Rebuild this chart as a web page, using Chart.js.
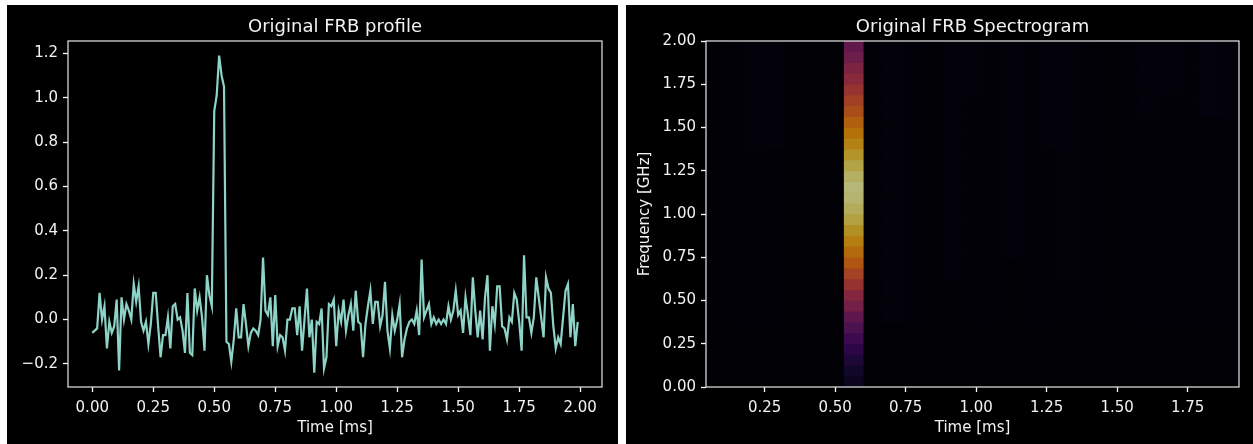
<!DOCTYPE html>
<html><head><meta charset="utf-8">
<script src="https://cdn.jsdelivr.net/npm/chart.js@4.4.1/dist/chart.umd.min.js"></script>
<style>
html,body{margin:0;padding:0;background:#fff;width:1253px;height:444px;overflow:hidden}
.panel{position:absolute;background:#000}
#p1{left:7px;top:5px;width:611px;height:439px}
#p2{left:626px;top:5px;width:627px;height:439px}
canvas{display:block}
</style></head><body>
<div class="panel" id="p1"><canvas id="c1" width="611" height="439"></canvas></div>
<div class="panel" id="p2"><canvas id="c2" width="627" height="439"></canvas></div>
<script>
// ---------- DATA ----------
const profileTitle = "Original FRB profile";
const spectroTitle = "Original FRB Spectrogram";
const timeLabel = "Time [ms]";
const freqLabel = "Frequency [GHz]";

// pulse profile, one sample every 0.01 ms starting at 0.00 ms
const profileStart = 0.0;
const profileStep = 0.01;
const profileValues = [
 -0.06,-0.05,-0.04,0.12,0.00,0.06,-0.13,-0.01,-0.06,-0.03,
 0.09,-0.23,0.10,0.00,0.07,0.04,0.00,0.16,0.08,0.15,
 -0.01,-0.05,-0.01,-0.11,-0.02,0.12,0.12,-0.03,-0.17,-0.07,
 -0.07,0.01,-0.13,0.06,0.07,0.00,0.01,-0.05,-0.15,0.12,
 -0.15,-0.16,0.14,0.04,0.10,0.01,-0.14,0.20,0.11,0.06,
 0.94,1.01,1.19,1.10,1.05,-0.10,-0.11,-0.19,-0.09,0.05,
 -0.08,-0.08,0.07,-0.02,-0.12,-0.06,-0.04,-0.05,-0.07,0.00,
 0.28,0.04,0.02,0.10,-0.12,0.11,-0.12,-0.07,-0.08,-0.14,
 0.00,0.00,0.05,0.05,-0.07,0.06,-0.14,0.00,0.14,-0.08,
 0.00,-0.24,-0.01,-0.02,0.05,-0.22,-0.17,0.07,0.06,0.09,
 -0.12,0.04,-0.01,0.09,-0.05,0.02,0.07,-0.05,0.13,-0.01,
 -0.02,-0.17,-0.02,0.06,0.13,-0.02,0.08,0.08,-0.03,0.02,
 0.17,-0.05,-0.13,0.02,-0.05,0.00,0.07,-0.17,-0.09,-0.04,
 -0.01,0.00,-0.02,0.04,-0.07,0.27,0.01,0.04,0.07,-0.02,
 0.01,-0.02,0.00,-0.02,0.00,-0.02,0.06,0.00,0.04,0.13,
 0.02,0.04,-0.06,0.10,0.02,-0.07,0.19,0.04,-0.08,0.04,
 -0.09,0.10,0.20,-0.14,0.06,-0.02,0.15,0.15,-0.03,-0.04,
 -0.09,0.01,-0.01,0.12,0.09,-0.01,-0.14,0.29,0.01,0.01,
 -0.06,0.01,0.19,0.10,0.01,-0.08,0.19,0.14,0.12,-0.03,
 -0.13,-0.08,-0.11,0.01,0.13,0.16,-0.08,0.07,-0.12,-0.01
];
const profileXRange = [-0.0995, 2.0895];
const profileYRange = [-0.304, 1.2555];
const profileXTicks = [0, 0.25, 0.5, 0.75, 1.0, 1.25, 1.5, 1.75, 2.0];
const profileYTicks = [-0.2, 0, 0.2, 0.4, 0.6, 0.8, 1.0, 1.2];

// spectrogram: time bins start at 0.042 ms, 0.07 ms wide; 32 frequency rows 0..2 GHz
const specTimeStart = 0.042;
const specTimeBin = 0.07;
const specFreqMax = 2.0;
// rows listed from the top (2 GHz) to the bottom (0 GHz); 27 time bins each; normalised intensity
const spectrogram = [
 [.005,.01,.02,.018,.005,.005,.005,.37,.01,.018,.015,.005,.02,.018,.01,.02,.012,.018,.018,.01,.005,.01,.018,.02,.012,.026,.018],
 [.005,.01,.02,.018,.005,.005,.005,.41,.01,.018,.015,.005,.02,.018,.01,.02,.012,.018,.018,.01,.005,.01,.018,.02,.012,.026,.018],
 [.005,.01,.02,.018,.005,.005,.005,.46,.01,.018,.015,.005,.02,.018,.01,.02,.012,.018,.018,.01,.005,.01,.018,.02,.012,.026,.018],
 [.005,.01,.02,.018,.005,.005,.005,.51,.01,.018,.015,.005,.02,.018,.01,.02,.012,.018,.018,.01,.005,.01,.018,.02,.012,.026,.018],
 [.005,.01,.02,.018,.005,.005,.005,.56,.01,.018,.015,.005,.02,.018,.01,.02,.012,.018,.018,.01,.005,.01,.018,.02,.012,.026,.018],
 [.005,.01,.02,.018,.005,.005,.005,.62,.01,.018,.015,.005,.02,.012,.01,.02,.012,.018,.018,.01,.005,.01,.018,.012,.012,.026,.018],
 [.005,.01,.02,.018,.005,.005,.005,.67,.01,.018,.015,.005,.02,.012,.01,.02,.012,.018,.018,.01,.005,.01,.018,.012,.012,.026,.018],
 [.005,.01,.02,.018,.005,.005,.005,.73,.01,.018,.015,.005,.02,.012,.01,.02,.012,.018,.018,.01,.005,.01,.01,.012,.012,.012,.01],
 [.005,.01,.02,.018,.005,.005,.005,.78,.01,.018,.015,.005,.02,.012,.01,.02,.012,.018,.018,.01,.005,.01,.01,.012,.012,.012,.01],
 [.005,.01,.02,.018,.005,.005,.005,.83,.01,.018,.015,.005,.02,.012,.01,.02,.012,.018,.018,.01,.005,.01,.01,.012,.012,.012,.01],
 [.005,.01,.01,.01,.005,.005,.005,.88,.01,.018,.015,.005,.02,.012,.01,.02,.012,.012,.018,.01,.005,.01,.01,.012,.012,.012,.01],
 [.005,.01,.01,.01,.005,.005,.005,.93,.01,.018,.015,.005,.02,.012,.01,.02,.012,.012,.018,.01,.005,.01,.01,.012,.012,.012,.01],
 [.005,.01,.01,.01,.005,.005,.005,.97,.01,.018,.015,.005,.02,.012,.01,.02,.012,.012,.018,.01,.005,.01,.01,.012,.012,.012,.01],
 [.005,.01,.01,.01,.005,.005,.005,1.0,.01,.018,.015,.005,.02,.012,.01,.02,.012,.012,.018,.01,.005,.01,.01,.012,.012,.012,.01],
 [.005,.01,.01,.01,.005,.005,.005,.99,.01,.018,.015,.005,.02,.012,.01,.02,.012,.012,.018,.01,.005,.01,.01,.012,.012,.012,.01],
 [.005,.01,.01,.01,.005,.005,.005,.96,.01,.018,.015,.005,.02,.012,.01,.02,.012,.012,.018,.01,.005,.01,.01,.012,.012,.012,.01],
 [.005,.01,.01,.01,.005,.005,.005,.92,.01,.018,.015,.005,.02,.012,.01,.02,.012,.012,.018,.01,.005,.01,.01,.012,.012,.012,.01],
 [.005,.01,.01,.01,.005,.005,.005,.87,.01,.018,.015,.005,.02,.012,.01,.02,.012,.012,.018,.01,.005,.01,.01,.012,.012,.012,.01],
 [.005,.01,.01,.01,.005,.005,.005,.82,.01,.018,.015,.005,.02,.012,.01,.02,.012,.012,.018,.01,.005,.01,.01,.012,.012,.012,.01],
 [.005,.01,.01,.01,.005,.005,.005,.76,.01,.018,.015,.005,.02,.012,.01,.02,.012,.012,.018,.01,.005,.01,.01,.012,.012,.012,.01],
 [.005,.01,.01,.01,.005,.005,.005,.70,.01,.018,.015,.005,.02,.012,.01,.005,.012,.012,.018,.01,.005,.01,.01,.012,.012,.012,.01],
 [.005,.01,.01,.01,.005,.005,.005,.63,.01,.018,.015,.005,.02,.012,.01,.005,.012,.012,.018,.01,.005,.01,.01,.012,.012,.012,.01],
 [.005,.01,.01,.01,.005,.005,.005,.56,.01,.018,.015,.005,.005,.012,.01,.005,.012,.012,.005,.01,.005,.01,.01,.012,.012,.012,.01],
 [.005,.01,.01,.01,.005,.005,.005,.49,.01,.018,.015,.005,.005,.012,.01,.005,.012,.012,.005,.01,.005,.01,.01,.012,.012,.012,.01],
 [.005,.01,.01,.01,.005,.005,.005,.43,.01,.018,.015,.005,.005,.012,.01,.005,.012,.012,.005,.01,.005,.01,.01,.012,.012,.012,.01],
 [.005,.01,.01,.01,.005,.005,.005,.36,.01,.018,.015,.005,.005,.012,.01,.005,.012,.012,.005,.01,.005,.01,.01,.012,.012,.012,.01],
 [.005,.005,.005,.005,.005,.005,.005,.30,.005,.005,.005,.005,.005,.005,.005,.005,.005,.005,.005,.005,.005,.005,.005,.005,.005,.005,.005],
 [.005,.005,.005,.005,.005,.005,.005,.24,.005,.005,.005,.005,.005,.005,.005,.005,.005,.005,.005,.005,.005,.005,.005,.005,.005,.005,.005],
 [.005,.005,.005,.005,.005,.005,.005,.19,.005,.005,.005,.005,.005,.005,.005,.005,.005,.005,.005,.005,.005,.005,.005,.005,.005,.005,.005],
 [.005,.005,.005,.005,.005,.005,.005,.14,.005,.005,.005,.005,.005,.005,.005,.005,.005,.005,.005,.005,.005,.005,.005,.005,.005,.005,.005],
 [.005,.005,.005,.005,.005,.005,.005,.10,.005,.005,.005,.005,.005,.005,.005,.005,.005,.005,.005,.005,.005,.005,.005,.005,.005,.005,.005],
 [.005,.005,.005,.005,.005,.005,.005,.07,.005,.005,.005,.005,.005,.005,.005,.005,.005,.005,.005,.005,.005,.005,.005,.005,.005,.005,.005]
];
const specXRange = [0.042, 1.932];
const specYRange = [0, 2.0];
const specXTicks = [0.25, 0.5, 0.75, 1.0, 1.25, 1.5, 1.75];
const specYTicks = [0, 0.25, 0.5, 0.75, 1.0, 1.25, 1.5, 1.75, 2.0];

// ---------- STYLE ----------
const FONT = "'DejaVu Sans', 'Liberation Sans', sans-serif";
const TEXT = '#f2f2f2';
const SPINE = '#d6d6d6';
const LINE = '#8dd3c7';
const CMAP_DIM = 0.72;
const INFERNO = [[0,0,4],[22,11,57],[66,10,104],[106,23,110],[147,38,103],[188,55,84],[221,81,58],[243,120,25],[252,165,10],[246,215,70],[252,255,164]];
function inferno(v){
  v = Math.max(0, Math.min(1, v));
  const p = v * (INFERNO.length - 1), i = Math.min(Math.floor(p), INFERNO.length - 2), f = p - i;
  const c = INFERNO[i].map((a, k) => Math.round((a + (INFERNO[i+1][k] - a) * f) * CMAP_DIM));
  return `rgb(${c[0]},${c[1]},${c[2]})`;
}
const minus = s => s.replace('-', '\u2212');

Chart.defaults.font.family = FONT;
Chart.defaults.font.size = 15;
Chart.defaults.color = TEXT;

const frame = {
  id: 'frame',
  afterDraw(chart, args, o) {
    const { ctx, chartArea: a } = chart;
    ctx.save();
    ctx.strokeStyle = SPINE; ctx.lineWidth = 1.3;
    ctx.strokeRect(a.left, a.top, a.right - a.left, a.bottom - a.top);
    ctx.fillStyle = TEXT;
    ctx.textAlign = 'center'; ctx.textBaseline = 'alphabetic';
    ctx.font = '18px ' + FONT;
    ctx.fillText(o.title, (a.left + a.right) / 2, a.top - 9);
    ctx.font = '15px ' + FONT;
    ctx.fillText(o.xLabel, (a.left + a.right) / 2, a.bottom + 45);
    if (o.yLabel) {
      ctx.translate(o.yLabelX, (a.top + a.bottom) / 2);
      ctx.rotate(-Math.PI / 2);
      ctx.textBaseline = 'middle';
      ctx.fillText(o.yLabel, 0, 0);
    }
    ctx.restore();
  }
};

function axis(range, ticks, fmt, isX, fixedSize) {
  return {
    type: 'linear', min: range[0], max: range[1], offset: false,
    afterBuildTicks: s => { s.ticks = ticks.map(v => ({ value: v })); },
    afterFit: s => { if (isX) s.height = fixedSize; else s.width = fixedSize; },
    grid: { display: true, drawOnChartArea: false, drawTicks: true, tickLength: 5, tickColor: '#ffffff', tickWidth: 1.3, offset: false },
    border: { display: false },
    ticks: { color: TEXT, padding: isX ? 7 : 5, autoSkip: false, maxRotation: 0, callback: v => minus(fmt(v)), font: { size: 15 } }
  };
}

// ---------- LEFT: profile ----------
const profilePoints = profileValues.map((v, i) => ({ x: profileStart + i * profileStep, y: v }));
new Chart(document.getElementById('c1'), {
  type: 'line',
  data: { datasets: [{ data: profilePoints, borderColor: LINE, borderWidth: 2.2, pointRadius: 0, tension: 0, fill: false }] },
  options: {
    responsive: false, animation: false, events: [],
    layout: { padding: { left: 0, right: 16, top: 36, bottom: 0 } },
    plugins: { legend: { display: false }, tooltip: { enabled: false },
      frame: { title: profileTitle, xLabel: timeLabel } },
    scales: {
      x: axis(profileXRange, profileXTicks, v => v.toFixed(2), true, 57),
      y: axis(profileYRange, profileYTicks, v => v.toFixed(1), false, 61)
    }
  },
  plugins: [frame]
});

// ---------- RIGHT: spectrogram ----------
const nRows = spectrogram.length;
const rowH = specFreqMax / nRows;
const specDatasets = spectrogram.map((row, r) => {
  const lo = specFreqMax - (r + 1) * rowH, hi = specFreqMax - r * rowH;
  return {
    data: row.map((v, c) => ({ x: specTimeStart + (c + 0.5) * specTimeBin, y: [lo, hi] })),
    backgroundColor: row.map(v => inferno(v)),
    borderWidth: 0, barPercentage: 1, categoryPercentage: 1, grouped: false
  };
});
new Chart(document.getElementById('c2'), {
  type: 'bar',
  data: { datasets: specDatasets },
  options: {
    responsive: false, animation: false, events: [],
    layout: { padding: { left: 0, right: 14, top: 36, bottom: 0 } },
    plugins: { legend: { display: false }, tooltip: { enabled: false },
      frame: { title: spectroTitle, xLabel: timeLabel, yLabel: freqLabel, yLabelX: 19 } },
    scales: {
      x: axis(specXRange, specXTicks, v => v.toFixed(2), true, 57),
      y: axis(specYRange, specYTicks, v => v.toFixed(2), false, 80)
    }
  },
  plugins: [frame]
});
</script>
</body></html>
